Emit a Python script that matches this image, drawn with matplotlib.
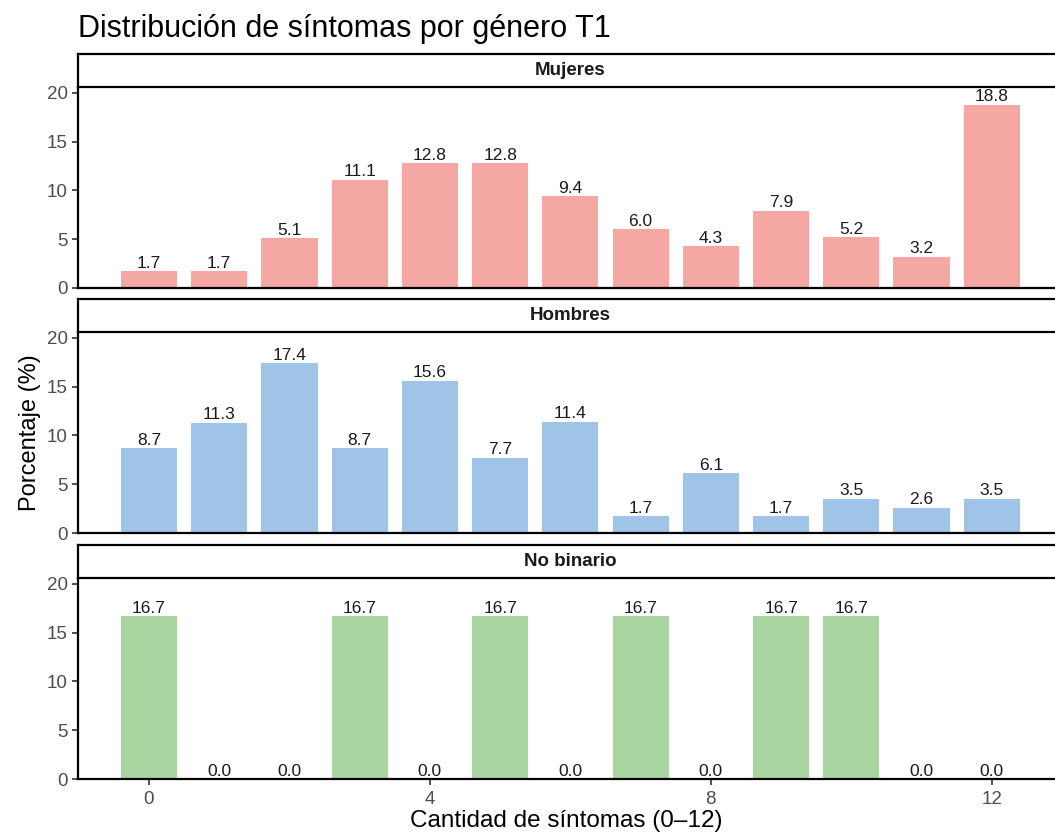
import matplotlib.pyplot as plt

plt.rcParams["font.family"] = ["Liberation Sans", "DejaVu Sans"]

sintomas = list(range(13))
mujeres = [1.7, 1.7, 5.1, 11.1, 12.8, 12.8, 9.4, 6.0, 4.3, 7.9, 5.2, 3.2, 18.8]
hombres = [8.7, 11.3, 17.4, 8.7, 15.6, 7.7, 11.4, 1.7, 6.1, 1.7, 3.5, 2.6, 3.5]
no_binario = [16.7, 0.0, 0.0, 16.7, 0.0, 16.7, 0.0, 16.7, 0.0, 16.7, 16.7, 0.0, 0.0]

paneles = [
    ("Mujeres", mujeres, "#F4A7A3"),
    ("Hombres", hombres, "#9FC4E8"),
    ("No binario", no_binario, "#A9D5A1"),
]
x_ticks = [0, 4, 8, 12]
y_ticks = [0, 5, 10, 15, 20]

W, H = 1055, 833
fig = plt.figure(figsize=(W / 100, H / 100), dpi=100)

left = 78 / W
zeros = [288, 533, 779]  # pixel row of the zero line in each panel
plot_h = 201
strip_h = 33

for i, ((nombre, vals, color), z) in enumerate(zip(paneles, zeros)):
    top = z - plot_h
    ax = fig.add_axes([left, 1 - z / H, 1 - left, plot_h / H])
    ax.bar(sintomas, vals, width=0.8, color=color, edgecolor="none")
    for xi, v in zip(sintomas, vals):
        ax.text(xi, v + 0.05, f"{v:.1f}", ha="center", va="bottom",
                fontsize=12.5, color="#1a1a1a")
    ax.set_xlim(-1.01, 12.9)
    ax.set_ylim(0, 20.6)
    ax.set_yticks(y_ticks)
    ax.set_xticks(x_ticks)
    for s in ["top", "right"]:
        ax.spines[s].set_visible(False)
    for s in ["left", "bottom"]:
        ax.spines[s].set_linewidth(1.6)
        ax.spines[s].set_color("black")
    ax.tick_params(axis="both", labelsize=13.5, labelcolor="#4d4d4d",
                   color="#333333", length=4, width=1.2)
    ax.tick_params(axis="x", pad=5)
    if i < 2:
        ax.tick_params(axis="x", length=0, labelbottom=False)
    if i == 1:
        ax.set_ylabel("Porcentaje (%)", fontsize=17, labelpad=4)
    if i == 2:
        ax.set_xlabel("Cantidad de síntomas (0–12)", fontsize=17.5, labelpad=1)

    sax = fig.add_axes([left, 1 - top / H, 1 - left, strip_h / H])
    sax.set_xlim(0, 1)
    sax.set_ylim(0, 1)
    sax.set_xticks([])
    sax.set_yticks([])
    for s in ["top", "left", "bottom"]:
        sax.spines[s].set_linewidth(1.6)
        sax.spines[s].set_color("black")
    sax.spines["right"].set_visible(False)
    sax.text((570 - 78) / (W - 78), 0.5, nombre, ha="center", va="center",
             fontsize=13.5, fontweight="bold", color="#1a1a1a")

fig.text(left, 1 - 29 / H, "Distribución de síntomas por género T1",
         fontsize=22, ha="left", va="center", color="black")

fig.savefig("out.png", dpi=100)
